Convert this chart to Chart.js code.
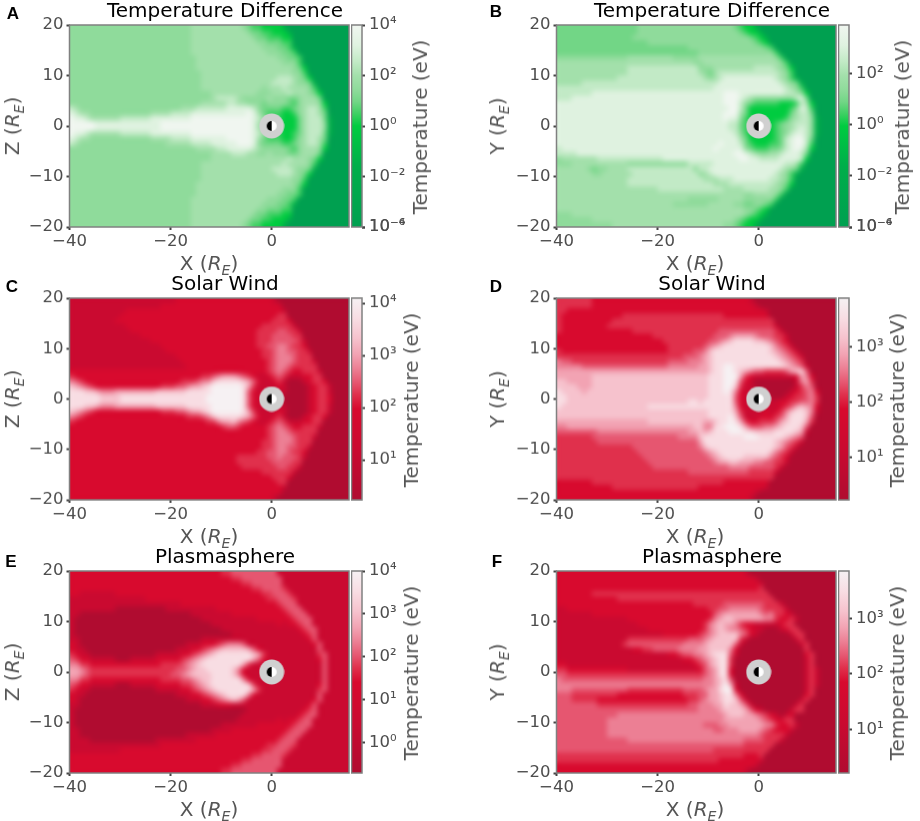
<!DOCTYPE html>
<html>
<head>
<meta charset="utf-8">
<script src="https://cdn.jsdelivr.net/npm/chart.js@4/dist/chart.umd.min.js"></script>
<style>
html, body { margin: 0; padding: 0; background: #fff; }
#page { position: relative; width: 920px; height: 821px; overflow: hidden; font-family: "DejaVu Sans", sans-serif; }
canvas { position: absolute; }
.lbl { position: absolute; white-space: nowrap; color: #555; font-size: 20px; transform: translate(-50%, -50%); }
.lbl sub { font-size: 14px; line-height: 0; }
.ttl { color: #000; }
.rot { transform: translate(-50%, -50%) rotate(-90deg); }
.letter { position: absolute; font: bold 17px "Liberation Sans", sans-serif; color: #000; transform: translate(-50%, -50%); }
</style>
</head>
<body>
<div id="page"></div>
<script>
'use strict'

// cell centres in Earth radii
const xCenters = [-39.5,-38.5,-37.5,-36.5,-35.5,-34.5,-33.5,-32.5,-31.5,-30.5,-29.5,-28.5,-27.5,-26.5,
  -25.5,-24.5,-23.5,-22.5,-21.5,-20.5,-19.5,-18.5,-17.5,-16.5,-15.5,-14.5,-13.5,-12.5,
  -11.5,-10.5,-9.5,-8.5,-7.5,-6.5,-5.5,-4.5,-3.5,-2.5,-1.5,-0.5,0.5,1.5,
  2.5,3.5,4.5,5.5,6.5,7.5,8.5,9.5,10.5,11.5,12.5,13.5,14.5,15.5];
const yCenters = [19.5,18.5,17.5,16.5,15.5,14.5,13.5,12.5,11.5,10.5,9.5,8.5,7.5,6.5,5.5,4.5,3.5,2.5,1.5,0.5,
  -0.5,-1.5,-2.5,-3.5,-4.5,-5.5,-6.5,-7.5,-8.5,-9.5,-10.5,-11.5,-12.5,-13.5,-14.5,-15.5,-16.5,-17.5,-18.5,-19.5];

// each row is one y, each digit a step (0-9) along the colour bar
const tempDiffXZ = [
"5555555 5555555 5555555 5556666 6666665 4332222 1000000 0000000",
"5555555 5555555 5555555 5556666 6666666 5443322 2100000 0000000",
"5555555 5555555 5555555 5556666 6666666 6544333 2200000 0000000",
"5555555 5555555 5555555 5556666 6666666 6655444 3300000 0000000",
"5555555 5555555 5555555 5556666 6666666 6665554 4310000 0000000",
"5555555 5555555 5555555 5556666 6666666 6666555 4430000 0000000",
"5555555 5555555 5555555 5555666 6666666 6666665 5443000 0000000",
"5555555 5555555 5555555 5555666 6666666 6666666 5553000 0000000",
"5555555 5555555 5555555 5555666 6666666 6666666 6654200 0000000",
"5555555 5555555 5555555 5555566 6666666 6666666 6655300 0000000",
"5555555 5555555 5555555 5555566 6666666 6666667 7765420 0000000",
"5555555 5555555 5555555 5555566 6666666 6666677 7765541 0000000",
"5555555 5555555 5555555 5555566 6666666 6665666 7666653 0000000",
"5555555 5555555 5555555 5555555 6666666 6655566 6766654 2000000",
"5555555 5555555 5555555 5555555 6777765 5555655 5445666 4000000",
"5555555 5555555 5555555 5555566 6667766 5554555 5435666 5200000",
"7655555 5555555 5555555 5666777 7778888 8754444 3345677 6300000",
"8766555 5555555 5566667 7778888 8888888 9864333 2235677 6400000",
"9887666 6667777 7788888 8889999 9999999 9875433 2224677 7410000",
"9999988 8888888 8888999 9999999 9999999 9865422 2224677 7510000",
"9999988 8888888 8888999 9999999 9999999 9865422 2224677 7510000",
"9887666 6667777 7788888 8889999 9999999 9875433 2234677 7410000",
"8766555 5555555 5566667 7778888 8889999 9864333 2235677 6400000",
"7655555 5555555 5555566 6667777 8888899 9854444 3345677 6300000",
"5555555 5555555 5555555 5555666 6778888 8765555 5435666 5200000",
"5555555 5555555 5555555 5555555 6666777 6655655 5445666 4000000",
"5555555 5555555 5555555 5555555 6666666 6666666 6766654 2000000",
"5555555 5555555 5555555 5555566 6666666 6666666 7666653 0000000",
"5555555 5555555 5555555 5555566 6666666 6666677 7765541 0000000",
"5555555 5555555 5555555 5555566 6666666 6666667 7765420 0000000",
"5555555 5555555 5555555 5555566 6666666 6666666 6655300 0000000",
"5555555 5555555 5555555 5555666 6666666 6666666 6654200 0000000",
"5555555 5555555 5555555 5555666 6666666 6666666 5553000 0000000",
"5555555 5555555 5555555 5555666 6666666 6666665 5443000 0000000",
"5555555 5555555 5555555 5556666 6666666 6666555 4430000 0000000",
"5555555 5555555 5555555 5556666 6666666 6665554 4310000 0000000",
"5555555 5555555 5555555 5556666 6666666 6655444 3300000 0000000",
"5555555 5555555 5555555 5556666 6666666 6544333 2200000 0000000",
"5555555 5555555 5555555 5556666 6666666 5443322 2100000 0000000",
"5555555 5555555 5555555 5556666 6666665 4332222 1000000 0000000"];

const tempDiffXY = [
"4444444 4444444 4455555 5555555 5555555 4322100 0000000 0000000",
"4444444 4444444 4455555 5555555 5555555 5432210 0000000 0000000",
"4444444 4444444 4555555 5555555 5555555 5554321 0000000 0000000",
"4444444 4444444 4444555 5555555 5555555 5555432 0000000 0000000",
"4444444 4444444 4444444 4444455 5555555 5555554 3000000 0000000",
"4444444 4444444 4444444 4444444 5555555 5555555 5300000 0000000",
"5555555 5555555 6666666 6655555 6666666 6666666 6530000 0000000",
"6666666 6666666 6666666 6666665 5666666 6666666 6653000 0000000",
"6666666 6666666 7777777 7777777 5556666 6666777 7654200 0000000",
"6666666 6666666 7777777 7777777 6546777 7777777 7765300 0000000",
"6666666 6666677 7777777 7777777 7656788 8888888 8765310 0000000",
"6666677 7777777 7777777 7777777 7777888 8888888 8876541 0000000",
"7777777 7777777 7777777 7777777 7778888 8888888 8887653 0000000",
"7777777 8888888 8888888 8888888 8888899 9888888 8887765 2000000",
"7778888 8888888 8888888 8888888 8888899 9876555 5555578 4000000",
"8888888 8888888 8888888 8888888 8888899 9754333 3322237 6200000",
"8888888 8888888 8888888 8888888 8888889 9742222 2222358 7300000",
"8888888 8888888 8888888 8888888 8888899 9642222 2222467 7400000",
"8888888 8888888 8888888 8888888 8888898 8532222 2223567 7510000",
"8888888 8888888 8888888 8888888 8888887 7432222 2345677 7510000",
"8888888 8888888 8888888 8888888 8888887 7432222 2345678 7510000",
"8888888 8888888 8888888 8888888 8888888 7532222 2345788 7510000",
"8888888 8888888 8888888 8888888 8888888 8642222 2347899 7400000",
"8888888 8888888 8888888 8888888 8888988 8743222 3347899 7300000",
"7888888 8888888 8888888 8888888 8889888 8854333 4457898 6200000",
"7777888 8888888 8888888 8888888 8888888 9987655 6678887 4000000",
"5666666 6777777 7777777 8888888 8888888 8998877 7788887 2000000",
"5556666 6666666 5555555 5555577 7778888 8888888 8887763 0000000",
"6666665 4556666 7777777 7777775 7788888 8888888 8876541 0000000",
"6666666 5566666 6777777 7777777 5678888 8888888 8765310 0000000",
"6666666 6666666 7777777 7777777 7666777 8888888 7765300 0000000",
"6666666 6666666 7777777 7777777 7776667 7777777 7654200 0000000",
"6666666 6666666 6666667 7777777 7777766 6677777 6653000 0000000",
"6666666 6666666 6666666 6666666 6666666 6655666 6530000 0000000",
"6666666 6666666 6666666 6666655 5555666 6655555 5300000 0000000",
"6666666 6666666 6666666 6655555 5566666 5544554 3000000 0000000",
"6666666 6666666 6666666 6666666 6666666 6655432 0000000 0000000",
"5556666 6666666 6666666 6666666 6666666 6654321 0000000 0000000",
"5555555 6666666 6666666 6666666 6666666 5432210 0000000 0000000",
"5555555 5555666 6666666 6666666 6666655 4322100 0000000 0000000"];

const solarWindXZ = [
"1111111 1111111 1111111 2222222 2222222 2222210 0000000 0000000",
"1111111 1111111 1111222 2222222 2222222 2222222 0000000 0000000",
"1111111 1111222 2222222 2222222 2222222 2222222 1000000 0000000",
"1111111 1112222 2222222 2222222 2222222 2222223 3000000 0000000",
"1111111 1122222 2222222 2222222 2222222 2222233 3200000 0000000",
"1111111 1111222 2222222 2222222 2222222 2223333 3310000 0000000",
"1111111 1111122 2222222 2222222 2222222 2233334 4331000 0000000",
"1111111 1111111 2222222 2222222 2222222 2233344 4433000 0000000",
"1111111 1111111 1122222 2222222 2222222 2233344 4443100 0000000",
"1111111 1111111 1111222 2222222 2222222 2233445 5433200 0000000",
"1111111 1111111 1111122 2222222 2222222 2223345 5443310 0000000",
"1111111 1111111 1111111 2222222 2222222 2223345 5543330 0000000",
"1111111 1111111 1111111 1222222 2222222 2222345 5543331 0000000",
"1111111 1111111 1111111 1122222 2222222 2222345 5433333 0000000",
"2222222 2222222 2222222 2222222 2222222 2222345 4322333 1000000",
"3222222 2222222 2222222 2222233 4566654 3211234 3111223 3000000",
"5432222 2222222 2222222 2333455 7888887 6421123 1000123 3200000",
"7654322 2222222 2222333 4456678 9999998 6311112 1000012 3310000",
"8887765 5566666 6667777 7788888 9999998 4211111 1000012 3310000",
"8888887 7778888 8888888 8888889 9999998 4211111 0000012 3320000",
"8888887 7778888 8888888 8888889 9999998 4211111 0000012 3320000",
"8887765 5566666 6667777 7788888 9999998 4211111 1000012 3310000",
"7654322 2222222 2222333 4456678 9999998 6311112 1000012 3310000",
"5432222 2222222 2222222 2233345 7888887 6421123 1000123 3200000",
"3222222 2222222 2222222 2222223 3566754 3211234 3111223 3000000",
"2222222 2222222 2222222 2222222 2234432 2222345 4322333 1000000",
"2222222 2222222 2222222 2222222 2222222 2222345 5433333 0000000",
"2222222 2222222 2222222 2222222 2222222 2222345 5543331 0000000",
"2222222 2222222 2222222 2222222 2222222 2223345 5543330 0000000",
"2222222 2222222 2222222 2222222 2222222 2223345 5443310 0000000",
"2222222 2222222 2222222 2222222 2222222 2233445 5433200 0000000",
"2222222 2222222 2222222 2222222 2222233 3333445 4443100 0000000",
"2222222 2222222 2222222 2222222 2222233 3333344 4433000 0000000",
"2222222 2222222 2222222 2222222 2222223 3333334 4331000 0000000",
"2222222 2222222 2222222 2222222 2222222 2223333 3310000 0000000",
"2222222 2222222 2222222 2222222 2222222 2222233 3200000 0000000",
"2222222 2222222 2222222 2222222 2222222 2222223 3000000 0000000",
"2222222 2222222 2222222 2222222 2222222 2222222 1000000 0000000",
"2222222 2222222 2222222 2222222 2222222 2222222 0000000 0000000",
"2222222 2222222 2222222 2222222 2222222 2222210 0000000 0000000"];

const solarWindXY = [
"3333333 2222222 2222222 2222222 2222222 2221000 0000000 0000000",
"3333333 2222222 2222222 2222222 2222222 2222100 0000000 0000000",
"3322222 2222222 2222222 2222222 2222222 2222221 0000000 0000000",
"3222222 2222223 3333333 3333333 3333322 2222222 0000000 0000000",
"3222222 2222333 3333333 3333333 3333333 3333333 3000000 0000000",
"3222222 2223333 3333333 3333333 3333333 3333333 3100000 0000000",
"3222222 2222222 2333333 3333333 3333444 4444444 4310000 0000000",
"2222222 2222222 2222233 3333333 3334445 6666544 4331000 0000000",
"2222222 2222222 2222222 3333333 3344567 8888776 5432000 0000000",
"2222222 2222222 2222222 2333333 3456788 8888888 7543100 0000000",
"3222222 2222222 2222222 2333334 4578888 8888888 7654310 0000000",
"3333333 3333333 3333333 3333444 5678888 8888888 8765431 0000000",
"5443333 3333333 3333333 3444455 5678888 8888888 8876543 0000000",
"5555544 4444444 4444444 4555555 6678899 8888888 8887654 1000000",
"6666666 6666666 6666666 6666666 6678899 8765443 3334678 4000000",
"6666666 7777777 7777777 7777777 7788899 9632111 1111126 5200000",
"7766666 7777777 7777777 7777777 7788899 8421000 0000015 6300000",
"7777666 7777777 7777777 7777777 7788899 7311000 0000013 5400000",
"8777767 7777777 7777777 7777777 7788898 5211100 0000123 4520000",
"8877777 7777777 7777777 7777777 7788888 4211111 0001233 4530000",
"8877777 7777777 7777777 7777788 7888888 4211111 1122334 4530000",
"8777777 7777777 7777888 8888888 8888888 5211111 1123467 6520000",
"7777777 7777777 7777777 7777777 7788888 6311112 1235788 7510000",
"7777777 7777777 7777777 7777777 7788889 7411122 2346888 7400000",
"6666666 6666666 6666777 7777777 7667889 8632233 3467888 6300000",
"5566666 6666666 6666666 6666667 7558899 9864445 5678887 4000000",
"4444444 4555555 5555555 5555566 7678889 9988777 7888876 1000000",
"3333333 4444444 4444444 4445555 7888888 8899988 8887654 0000000",
"3333333 3444444 4444444 4444444 6888888 8888888 8765431 0000000",
"3333333 3333333 3444444 4444444 5788888 8888888 8764310 0000000",
"3333333 3333333 3344444 4444444 4567888 8888888 7543100 0000000",
"3333333 3333333 3334444 4444444 4456788 8877777 5432000 0000000",
"3333333 3333333 3333444 4444444 4445667 7666554 4331000 0000000",
"3333333 3333333 3333344 4444444 4444445 5554444 4310000 0000000",
"3333333 3333333 3333333 3333344 4444444 4443333 3100000 0000000",
"3333333 3333333 3333333 3333333 3333333 3333333 3000000 0000000",
"2222222 3333333 3333333 3333333 3333322 2222222 0000000 0000000",
"2222222 2222333 3333333 3333333 2222222 2222221 0000000 0000000",
"2222222 2222222 2222222 2222222 2222222 2222100 0000000 0000000",
"2222222 2222222 2222222 2222222 2222222 2221000 0000000 0000000"];

const plasmaXZ = [
"2222222 2222222 2222222 2222222 2233444 4444441 1111111 1111111",
"2222222 2222222 2222222 2222222 2222334 4444444 1111111 1111111",
"2222222 2222222 2222222 2222222 2222223 3444444 1111111 1111111",
"2222222 2222222 2222222 2222222 2222222 2334444 3111111 1111111",
"2211111 1122222 2222222 2222222 2222222 2223344 4311111 1111111",
"1111111 1111111 1222222 2222222 2222222 2222334 4431111 1111111",
"1111111 1111111 1111111 1222222 2222222 2222223 4441111 1111111",
"1111111 1100000 0000011 1111111 1222222 2222222 3444111 1111111",
"1100000 0000000 0000000 0001111 1111222 2222222 2344411 1111111",
"1000000 0000000 0000000 0000011 1111111 1122222 2234441 1111111",
"1000000 0000000 0000000 0000000 1111111 1111112 1223441 1111111",
"1000000 0000000 0000000 0000000 0011111 1111111 1112344 1111111",
"1000000 0000000 0000000 0000000 0000111 1111111 1111234 1111111",
"1100000 0000000 0000000 0000011 1111111 1111111 1111124 1111111",
"2100000 0000000 0000000 0011122 2345554 1111111 1111112 4111111",
"2110000 0000000 0000000 1112234 5677777 6421111 1111111 4111111",
"3211000 0000000 0001111 1223456 7888888 8763111 1111111 3411111",
"4322111 1100011 1112222 2345678 8888888 8642111 1111111 2411111",
"5533222 2222222 2222333 3456788 8888886 3111111 1111111 1411111",
"6654333 3333333 3333333 4456778 8888752 1111111 1111111 1411111",
"6654333 3333333 3333334 4567777 8888752 1111111 1111111 1411111",
"5533222 2222222 2222333 3445677 8888885 2111111 1111111 1411111",
"4322111 1100011 1112222 2334567 8888888 7311111 1111111 2411111",
"3211000 0000000 0001111 1223456 7888888 8631111 1111111 3411111",
"2110000 0000000 0000000 1112234 5678888 5211111 1111111 4111111",
"2100000 0000000 0000000 0011122 3456764 1111111 1111112 4111111",
"1100000 0000000 0000000 0000011 1222111 1111111 1111124 1111111",
"1000000 0000000 0000000 0000000 0000000 1111111 1111234 1111111",
"1000000 0000000 0000000 0000000 0000001 1111111 1112344 1111111",
"1000000 0000000 0000000 0000000 0000011 1111112 1223441 1111111",
"1000000 0000000 0000000 0000000 0011111 1122222 2234441 1111111",
"1100000 0000000 0000000 0000000 1111222 2222222 2344411 1111111",
"1100000 0000000 0000000 0011111 1222222 2222222 3444111 1111111",
"1111000 0000000 0001111 1111222 2222222 2222223 4441111 1111111",
"1111111 1111111 1111222 2222222 2222222 2222334 4431111 1111111",
"1111111 1112222 2222222 2222222 2222222 2223344 4311111 1111111",
"2222222 2222222 2222222 2222222 2222222 2334444 3111111 1111111",
"2222222 2222222 2222222 2222222 2222223 3444444 1111111 1111111",
"2222222 2222222 2222222 2222222 2222334 4444444 1111111 1111111",
"2222222 2222222 2222222 2222222 2233444 4444441 1111111 1111111"];

const plasmaXY = [
"2222222 2222222 2222222 2222222 2222222 2210000 0000000 0000000",
"2222222 2222222 2222222 2222222 2222222 2222100 0000000 0000000",
"2222222 2222222 2222222 2222222 2222222 2222210 0000000 0000000",
"2222222 2222222 2222222 2222222 2222222 2222230 0000000 0000000",
"2222222 3333333 3333333 3333333 3333333 3333333 0000000 0000000",
"2222222 2222233 3333333 3333333 3333333 3333333 3000000 0000000",
"2222222 2222222 2222222 2222223 3333344 4444443 3310000 0000000",
"1122222 2222222 2222222 2222222 2233445 5555543 3331000 0000000",
"1111111 2222222 2222222 2222222 2224566 6666654 5332100 0000000",
"1111111 1111111 2222222 2222222 2235677 6666665 5322310 0000000",
"1111111 1111111 1122222 2222222 2356766 5322111 1123300 0000000",
"1111111 1111111 1111222 2222222 2356765 5432110 0012330 0000000",
"1111111 1111111 1111111 2222222 3456777 7542100 0000133 0000000",
"1111111 1111111 3333333 3333344 4567777 7310000 0000013 0000000",
"1111111 1111113 4444444 4444555 5677777 4100000 0000001 3000000",
"1111111 1111111 1223344 4445555 6677775 2000000 0000000 3000000",
"1111111 1111111 1111111 1223445 5678884 1000000 0000000 2300000",
"1111111 1111111 1111111 1111223 4567883 0000000 0000000 1300000",
"2211111 1111111 1111111 1111112 3467883 0000000 0000000 1300000",
"3322222 2222222 1111111 1111111 2456882 0000000 0000000 1310000",
"4433333 3333333 3333333 3333333 3456882 0000000 0000000 1310000",
"5444444 4444444 4444444 4444444 4556784 0000000 0000000 1310000",
"5555555 5555555 5555555 5555555 5556796 1000000 0000000 1310000",
"5554444 4444444 3333333 3333444 4566899 2000000 0000000 1300000",
"4443333 3333322 2222222 2222333 4466788 5200000 0000000 2300000",
"4443333 3222222 2222222 2222233 4566788 7410000 0000001 3000000",
"4444444 4333333 3333333 3333344 5556687 7641000 0000013 0000000",
"4444444 4444444 4444444 4444444 5555677 7764210 0000133 0000000",
"4444444 4444455 5555555 5555555 5555567 7766543 2101200 0000000",
"4444444 4445555 5555555 5555555 5555566 6666654 3223300 0000000",
"4444444 4445555 5555555 5555555 5444556 6666665 5322310 0000000",
"4444444 4445555 5555555 5555555 5554455 5666654 3222100 0000000",
"4444444 4445555 5555555 5555555 5555555 5555543 3331000 0000000",
"4444444 4444444 5555555 5555555 5555555 5544443 3310000 0000000",
"4444444 4444444 4444444 4444444 4444444 4433333 3000000 0000000",
"4444444 4444444 4444444 4444444 4443333 3333333 0000000 0000000",
"3333333 3333333 3333333 3333333 3333333 3322230 0000000 0000000",
"3333333 3333333 3333333 3333333 3333222 2222210 0000000 0000000",
"2222222 2222222 2222222 2222222 2222222 2222100 0000000 0000000",
"2222222 2222222 2222222 2222222 2222222 2210000 0000000 0000000"];

const greenLevels = ['#00a050','#00ae4a','#00cc40','#3dd062','#72d686','#8fdb9b','#a3e0ab','#c2eac6','#dff2e0','#f0f6f0'];
const redLevels = ['#b00c30','#ca0a30','#d80a2e','#e0304c','#e65670','#ec7f94','#f2a3b3','#f6c2cd','#f8dde3','#f6f1f3'];
const greenStops = [0, .3, .5, .56, .62, .68, .75, .82, .9, 1];
const redStops = [0, .25, .45, .52, .58, .65, .72, .8, .9, 1];

const xTicks = [-40, -20, 0];
const yTicks = [-20, -10, 0, 10, 20];

const panels = [
  { letter:'A', lx:13,  ly:14,  left:0,   top:24.5,  h:202.5, title:'Temperature Difference', yName:'Z', rows:tempDiffXZ, colors:greenLevels, stops:greenStops,
    cMin:1e-4, cMax:1e4, cVals:[1e4,1e2,1,1e-2,1e-4,1e-4], cText:['10⁴','10²','10⁰','10⁻²','10⁻⁴','10⁻⁶'], cTitleX:420 },
  { letter:'B', lx:496, ly:12,  left:487, top:24.5,  h:202.5, title:'Temperature Difference', yName:'Y', rows:tempDiffXY, colors:greenLevels, stops:greenStops,
    cMin:1e-4, cMax:Math.pow(10,3.9), cVals:[1e2,1,1e-2,1e-4,1e-4], cText:['10²','10⁰','10⁻²','10⁻⁴','10⁻⁶'], cTitleX:902 },
  { letter:'C', lx:12,  ly:287, left:0,   top:298,   h:201.5, title:'Solar Wind', yName:'Z', rows:solarWindXZ, colors:redLevels, stops:redStops,
    cMin:1.7, cMax:Math.pow(10,4.1), cVals:[1e4,1e3,1e2,1e1], cText:['10⁴','10³','10²','10¹'], cTitleX:411 },
  { letter:'D', lx:496, ly:287, left:487, top:298,   h:201.5, title:'Solar Wind', yName:'Y', rows:solarWindXY, colors:redLevels, stops:redStops,
    cMin:1.67, cMax:Math.pow(10,3.885), cVals:[1e3,1e2,1e1], cText:['10³','10²','10¹'], cTitleX:897 },
  { letter:'E', lx:11,  ly:562, left:0,   top:570.5, h:202.5, title:'Plasmasphere', yName:'Z', rows:plasmaXZ, colors:redLevels, stops:redStops,
    cMin:0.2, cMax:1e4, cVals:[1e4,1e3,1e2,1e1,1], cText:['10⁴','10³','10²','10¹','10⁰'], cTitleX:411 },
  { letter:'F', lx:497, ly:562, left:487, top:570.5, h:202.5, title:'Plasmasphere', yName:'Y', rows:plasmaXY, colors:redLevels, stops:redStops,
    cMin:1.65, cMax:Math.pow(10,3.85), cVals:[1e3,1e2,1e1], cText:['10³','10²','10¹'], cTitleX:897 }
];

const page = document.getElementById('page');
const tickFont = { family:'"DejaVu Sans"', size:16.5 };
const frameColor = '#808080';

function addLabel(html, x, y, cls) {
  let d = document.createElement('div');
  d.className = 'lbl ' + (cls || '');
  d.innerHTML = html;
  d.style.left = x + 'px';
  d.style.top = y + 'px';
  page.appendChild(d);
}

function addCanvas(left, top, w, h) {
  let c = document.createElement('canvas');
  c.width = w; c.height = h;
  c.style.left = left + 'px';
  c.style.top = top + 'px';
  c.style.width = w + 'px';
  c.style.height = h + 'px';
  page.appendChild(c);
  return c;
}

// grey disc with a half black, half white Earth in it
function earthIcon() {
  let c = document.createElement('canvas');
  c.width = 26; c.height = 26;
  let g = c.getContext('2d');
  g.fillStyle = '#d0d0d0';
  g.beginPath(); g.arc(13, 13, 12.5, 0, Math.PI * 2); g.fill();
  g.fillStyle = '#fff';
  g.beginPath(); g.arc(13, 13, 5, 0, Math.PI * 2); g.fill();
  g.fillStyle = '#000';
  g.beginPath(); g.arc(13, 13, 5, Math.PI / 2, Math.PI * 1.5); g.fill();
  return c;
}

function hexRgb(h) {
  return [parseInt(h.slice(1,3),16), parseInt(h.slice(3,5),16), parseInt(h.slice(5,7),16)];
}

function minusSign(v) {
  return String(v).replace('-', '\u2212');
}

// paints the first dataset's cells through the axes, smoothed like the original image
const heatmapPlugin = {
  id: 'heatmap',
  beforeDatasetsDraw(chart, args, opts) {
    let cells = chart.data.datasets[0].data;
    let off = document.createElement('canvas');
    off.width = xCenters.length; off.height = yCenters.length;
    let g = off.getContext('2d');
    let img = g.createImageData(off.width, off.height);
    cells.forEach(function (c) {
      let i = xCenters.indexOf(c.x), j = yCenters.indexOf(c.y);
      let rgb = hexRgb(opts.colors[c.v]);
      let k = (j * off.width + i) * 4;
      img.data[k] = rgb[0]; img.data[k+1] = rgb[1]; img.data[k+2] = rgb[2]; img.data[k+3] = 255;
    });
    g.putImageData(img, 0, 0);
    let sx = chart.scales.x, sy = chart.scales.y, a = chart.chartArea, ctx = chart.ctx;
    let x0 = sx.getPixelForValue(xCenters[0] - 0.5), x1 = sx.getPixelForValue(xCenters[xCenters.length-1] + 0.5);
    let y0 = sy.getPixelForValue(yCenters[0] + 0.5), y1 = sy.getPixelForValue(yCenters[yCenters.length-1] - 0.5);
    ctx.save();
    ctx.beginPath(); ctx.rect(a.left, a.top, a.right - a.left, a.bottom - a.top); ctx.clip();
    ctx.imageSmoothingEnabled = true;
    ctx.imageSmoothingQuality = 'high';
    ctx.drawImage(off, x0, y0, x1 - x0, y1 - y0);
    ctx.filter = 'blur(2px)';
    ctx.drawImage(off, x0, y0, x1 - x0, y1 - y0);
    ctx.restore();
  }
};

const framePlugin = {
  id: 'frame',
  afterDraw(chart) {
    let a = chart.chartArea, ctx = chart.ctx;
    ctx.save();
    ctx.strokeStyle = frameColor;
    ctx.lineWidth = 1.5;
    ctx.strokeRect(a.left, a.top, a.right - a.left, a.bottom - a.top);
    ctx.restore();
  }
};

function makeMap(p) {
  let cells = [];
  p.rows.forEach(function (row, j) {
    row.replace(/ /g, '').split('').forEach(function (d, i) {
      cells.push({ x: xCenters[i], y: yCenters[j], v: Number(d) });
    });
  });
  let plotOffset = 30;
  let c = addCanvas(p.left, p.top - plotOffset, 450, plotOffset + p.h + 40);
  new Chart(c, {
    type: 'scatter',
    data: { datasets: [
      { label: p.title, data: cells, pointRadius: 0, pointHoverRadius: 0 },
      { label: 'Earth', data: [{ x: 0, y: 0 }], pointStyle: earthIcon(), pointRadius: 13 }
    ] },
    options: {
      responsive: false,
      animation: false,
      layout: { padding: { top: plotOffset, right: 101, left: 0, bottom: 0 } },
      plugins: {
        legend: { display: false },
        tooltip: { enabled: false },
        heatmap: { colors: p.colors }
      },
      scales: {
        x: {
          type: 'linear', min: -40, max: 15.3,
          afterBuildTicks: function (s) { s.ticks = xTicks.map(function (v) { return { value: v }; }); },
          afterFit: function (s) { s.height = 40; },
          grid: { drawOnChartArea: false, tickLength: 3, tickWidth: 2, tickColor: '#444' },
          border: { display: false },
          ticks: { color: '#4d4d4d', font: tickFont, padding: 2, maxRotation: 0, callback: minusSign }
        },
        y: {
          type: 'linear', min: -20, max: 20,
          afterBuildTicks: function (s) { s.ticks = yTicks.map(function (v) { return { value: v }; }); },
          afterFit: function (s) { s.width = 69.5; },
          grid: { drawOnChartArea: false, tickLength: 3, tickWidth: 2, tickColor: '#444' },
          border: { display: false },
          ticks: { color: '#4d4d4d', font: tickFont, padding: 3, callback: minusSign }
        }
      }
    },
    plugins: [heatmapPlugin, framePlugin]
  });
}

function makeColorbar(p) {
  let pad = 15, w = 80;
  let c = addCanvas(p.left + 351, p.top - pad, w, p.h + pad * 2);
  new Chart(c, {
    type: 'bar',
    data: { labels: ['Temperature (eV)'], datasets: [{
      data: [[p.cMin, p.cMax]],
      barPercentage: 1, categoryPercentage: 1,
      backgroundColor: function (ctx) {
        let a = ctx.chart.chartArea;
        if (!a) return p.colors[0];
        let g = ctx.chart.ctx.createLinearGradient(0, a.bottom, 0, a.top);
        p.colors.forEach(function (col, i) { g.addColorStop(p.stops[i], col); });
        return g;
      }
    }] },
    options: {
      responsive: false,
      animation: false,
      layout: { padding: { top: pad, bottom: pad, left: 0.5, right: 0 } },
      plugins: { legend: { display: false }, tooltip: { enabled: false } },
      scales: {
        x: { display: false },
        y: {
          type: 'logarithmic', position: 'right', min: p.cMin, max: p.cMax,
          afterBuildTicks: function (s) { s.ticks = p.cVals.map(function (v) { return { value: v }; }); },
          afterFit: function (s) { s.width = w - 0.5 - 10.5; },
          grid: { drawOnChartArea: false, tickLength: 3, tickWidth: 2, tickColor: '#444' },
          border: { display: false },
          ticks: { color: '#4d4d4d', font: tickFont, padding: 4, autoSkip: false, maxRotation: 0,
            callback: function (v, i) { return p.cText[i]; } }
        }
      }
    },
    plugins: [framePlugin]
  });
}

panels.forEach(function (p) {
  makeMap(p);
  makeColorbar(p);

  let letter = document.createElement('div');
  letter.className = 'letter';
  letter.textContent = p.letter;
  letter.style.left = p.lx + 'px';
  letter.style.top = p.ly + 'px';
  page.appendChild(letter);

  let xLabelAt = p.left === 0 ? 209 : 695;
  let yLabelAt = p.left === 0 ? 12 : 497;
  addLabel(p.title, p.left + 225, p.top - 15, 'ttl');
  addLabel('X (<i>R<sub>E</sub></i>)', xLabelAt, p.top + p.h + 36);
  addLabel(p.yName + ' (<i>R<sub>E</sub></i>)', yLabelAt, p.top + p.h / 2, 'rot');
  addLabel('Temperature (eV)', p.cTitleX, p.top + p.h / 2 + 1, 'rot');
});
</script>
</body>
</html>
